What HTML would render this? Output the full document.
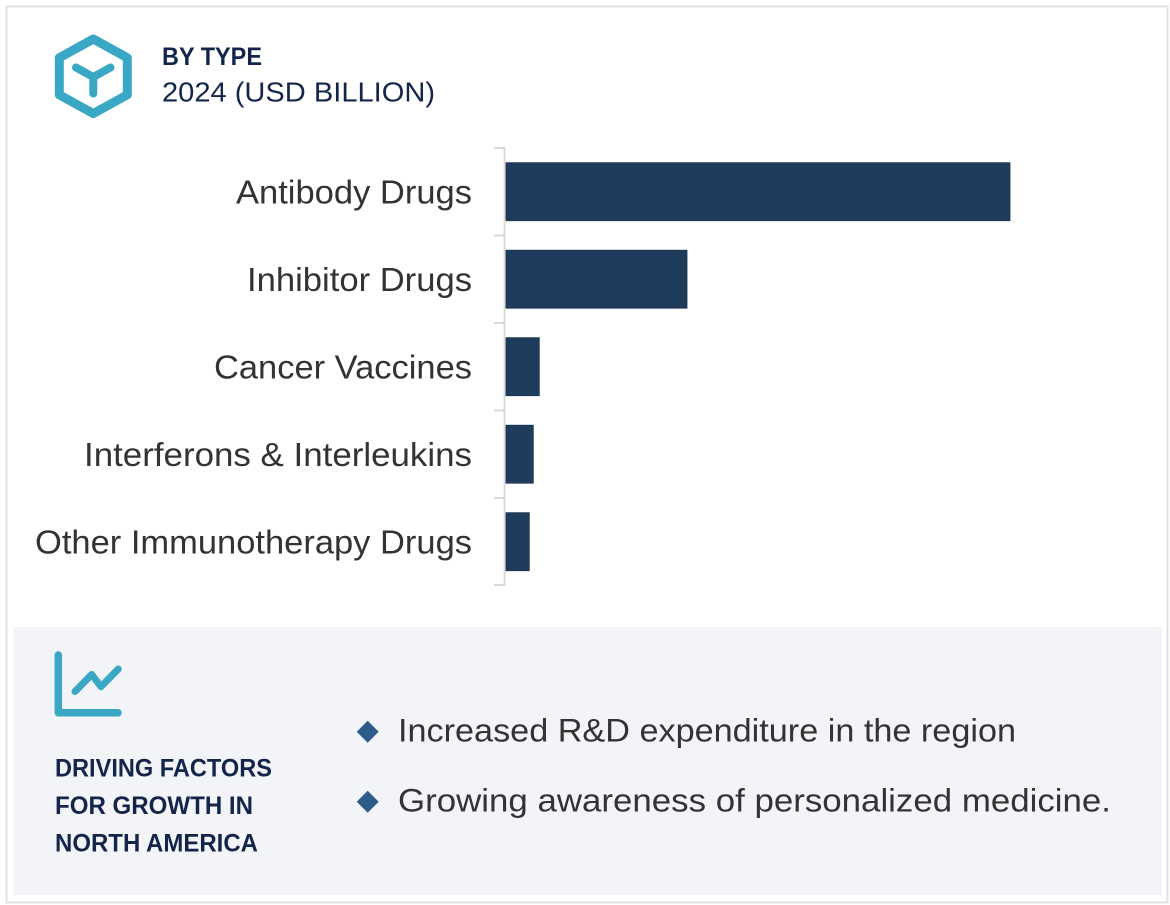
<!DOCTYPE html>
<html>
<head>
<meta charset="utf-8">
<style>
  html, body { margin: 0; padding: 0; background: #ffffff; }
  body { width: 1170px; height: 905px; overflow: hidden; }
  svg { display: block; }
  text { font-family: "Liberation Sans", "DejaVu Sans", sans-serif; }
</style>
</head>
<body>
<svg width="1170" height="905" viewBox="0 0 1170 905" xmlns="http://www.w3.org/2000/svg">
  <!-- card -->
  <rect x="0" y="0" width="1170" height="905" fill="#ffffff"/>
  <rect x="6.5" y="6.5" width="1161" height="896" fill="#ffffff" stroke="#dfe0e6" stroke-width="2"/>

  <!-- hex icon -->
  <path d="M93.3,39 L127.3,57.8 L127.3,94.8 L93.3,113.6 L59.3,94.8 L59.3,57.8 Z" fill="none" stroke="#3aa7c5" stroke-width="9" stroke-linejoin="round"/>
  <path d="M76,67.5 L93.3,77 L110.5,67.5 M93.3,77 L93.3,93.5" fill="none" stroke="#3aa7c5" stroke-width="8" stroke-linecap="round" stroke-linejoin="round"/>

  <!-- title -->
  <text x="162" y="65" font-size="25" font-weight="bold" fill="#14254b" textLength="100" lengthAdjust="spacingAndGlyphs">BY TYPE</text>
  <text x="162" y="101.5" font-size="27.5" fill="#14254b" textLength="273" lengthAdjust="spacingAndGlyphs">2024 (USD BILLION)</text>

  <!-- axis -->
  <g stroke="#d9d9d9" stroke-width="2" fill="none">
    <line x1="504.5" y1="147" x2="504.5" y2="586"/>
    <line x1="494" y1="148" x2="505" y2="148"/>
    <line x1="494" y1="235.5" x2="505" y2="235.5"/>
    <line x1="494" y1="323" x2="505" y2="323"/>
    <line x1="494" y1="410.5" x2="505" y2="410.5"/>
    <line x1="494" y1="498" x2="505" y2="498"/>
    <line x1="494" y1="585" x2="505" y2="585"/>
  </g>

  <!-- bars -->
  <g fill="#1e3d5c" stroke="#18324d" stroke-width="0.8">
    <rect x="506" y="162.7" width="504" height="58"/>
    <rect x="506" y="250.2" width="181" height="58"/>
    <rect x="506" y="337.7" width="33.3" height="58"/>
    <rect x="506" y="425.2" width="27.3" height="58"/>
    <rect x="506" y="512.7" width="23.3" height="58"/>
  </g>

  <!-- labels -->
  <g font-size="33" fill="#333333" text-anchor="end">
    <text x="472" y="203.5" textLength="236" lengthAdjust="spacingAndGlyphs">Antibody Drugs</text>
    <text x="472" y="291" textLength="225" lengthAdjust="spacingAndGlyphs">Inhibitor Drugs</text>
    <text x="472" y="378.5" textLength="258" lengthAdjust="spacingAndGlyphs">Cancer Vaccines</text>
    <text x="472" y="466" textLength="388" lengthAdjust="spacingAndGlyphs">Interferons &amp; Interleukins</text>
    <text x="472" y="553.5" textLength="437" lengthAdjust="spacingAndGlyphs">Other Immunotherapy Drugs</text>
  </g>

  <!-- bottom panel -->
  <rect x="13.5" y="627" width="1148.5" height="268" fill="#f3f4f8"/>

  <!-- chart icon -->
  <path d="M58.3,655 L58.3,712.8 L118,712.8" fill="none" stroke="#3aa7c5" stroke-width="7.5" stroke-linecap="round" stroke-linejoin="round"/>
  <path d="M75,691.5 L91.7,674.5 L101,686.7 L118.3,669" fill="none" stroke="#3aa7c5" stroke-width="7" stroke-linecap="round" stroke-linejoin="round"/>

  <g font-size="25" font-weight="bold" fill="#14254b">
    <text x="55" y="776.5" textLength="217" lengthAdjust="spacingAndGlyphs">DRIVING FACTORS</text>
    <text x="55" y="814" textLength="198" lengthAdjust="spacingAndGlyphs">FOR GROWTH IN</text>
    <text x="55" y="851.5" textLength="203" lengthAdjust="spacingAndGlyphs">NORTH AMERICA</text>
  </g>

  <!-- bullets -->
  <rect x="360" y="724" width="15.5" height="15.5" fill="#2d5b8a" transform="rotate(45 367.7 731.7)"/>
  <rect x="360" y="794" width="15.5" height="15.5" fill="#2d5b8a" transform="rotate(45 367.7 801.7)"/>
  <g font-size="32.5" fill="#333333">
    <text x="398" y="741.7" textLength="618" lengthAdjust="spacingAndGlyphs">Increased R&amp;D expenditure in the region</text>
    <text x="398" y="811.7" textLength="713" lengthAdjust="spacingAndGlyphs">Growing awareness of personalized medicine.</text>
  </g>
</svg>
</body>
</html>
